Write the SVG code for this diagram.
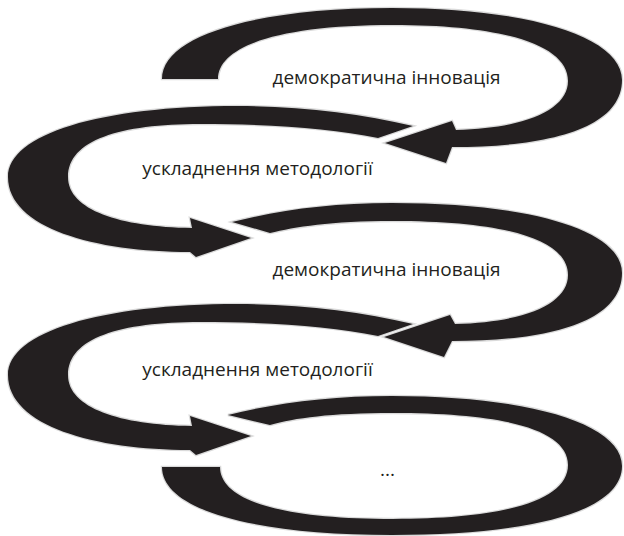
<svg xmlns="http://www.w3.org/2000/svg" width="624" height="536" viewBox="0 0 624 536">
<style>
.band{fill:#231f20;stroke:#dadada;stroke-width:2.5;stroke-linejoin:miter;paint-order:stroke}
.lbl{font-family:"Open Sans","Noto Sans",sans-serif;font-size:19px;fill:#231f20;text-anchor:middle}
</style>
<rect width="624" height="536" fill="#ffffff"/>
<g id="loop1">
<path class="band" d="M162,79 C162,36 254,8 392,8 C530,8 622,37 622,80 C622,128 550,147 452,147 L446,163 L385,143 L452,121 L456,130 C530,128 568,108 568,81 C568,46 507,25 393,25 C279,25 218,46 218,79 Z"/>
<text class="lbl" x="386.5" y="84">демократична інновація</text>
</g>
<g id="loop2">
<path class="band" d="M413,126 C360,113 300,106 238,106 C100,106 8,134 8,177 C8,228 95,252 190,252 L196,257 L251,238 L190,218 L192,228 C120,227 68,210 68,177 C68,140 120,124 200,124 C270,124 330,128 378,138 Z"/>
<text class="lbl" x="257.5" y="175">ускладнення методології</text>
</g>
<g id="loop3">
<path class="band" d="M232,222 C280,210 330,203 392,203 C530,203 622,230 622,273 C622,322 550,341 452,341 L444,357 L384,337 L450,315 L455,324 C530,322 568,302 568,275 C568,240 507,221 393,221 C330,221 295,227 270,233 Z"/>
<text class="lbl" x="386.5" y="276">демократична інновація</text>
</g>
<g id="loop4">
<path class="band" d="M413,324 C360,311 300,304 238,304 C100,304 8,332 8,375 C8,426 95,450 190,450 L196,455 L251,436 L190,416 L192,426 C120,425 68,408 68,375 C68,338 120,322 200,322 C270,322 330,326 378,336 Z"/>
<text class="lbl" x="257.5" y="376">ускладнення методології</text>
</g>
<g id="loop5">
<path class="band" d="M228,415 C276,403 330,396 392,396 C530,396 622,424 622,466 C622,512 530,535 392,535 C254,535 162,510 162,467 L220,467 C220,500 280,519 393,519 C506,519 568,500 568,465 C568,430 506,413 393,413 C330,413 295,418 270,425 Z"/>
<text class="lbl" x="387.5" y="476">...</text>
</g>
</svg>
